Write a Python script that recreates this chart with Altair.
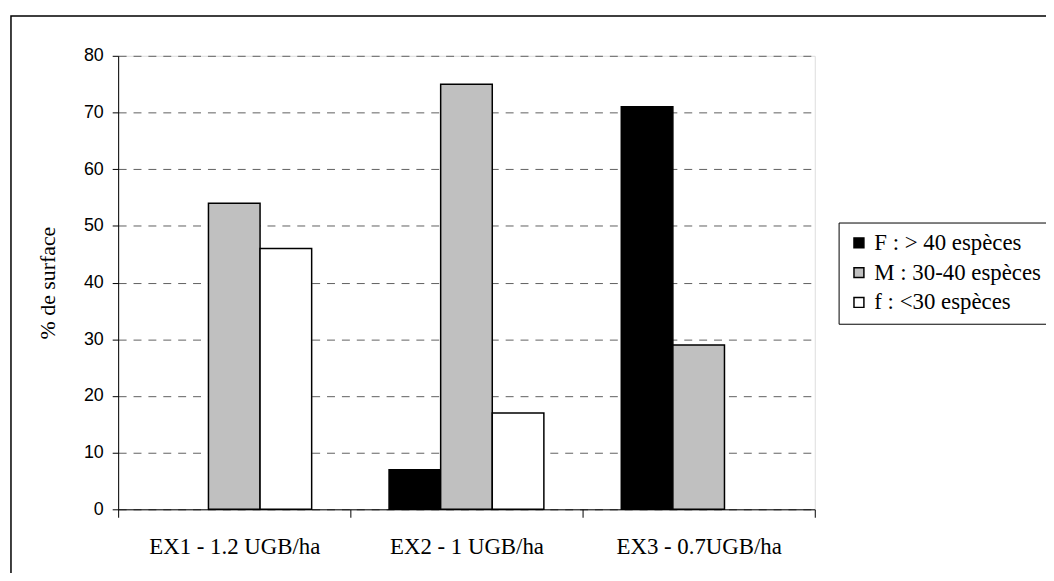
import altair as alt
import pandas as pd

categories = ["EX1 - 1.2 UGB/ha", "EX2 - 1 UGB/ha", "EX3 - 0.7UGB/ha"]
series = ["F : > 40  espèces", "M : 30-40 espèces", "f : <30 espèces"]
vals_F = [0, 7, 71]
vals_M = [54, 75, 29]
vals_f = [46, 17, 0]
colors = ["#000000", "#C0C0C0", "#FFFFFF"]
y_ticks = [0, 10, 20, 30, 40, 50, 60, 70, 80]

rows = []
for s, vals in zip(series, [vals_F, vals_M, vals_f]):
    for c, v in zip(categories, vals):
        rows.append({"cat": c, "serie": s, "v": v})
df = pd.DataFrame(rows)

W, H = 702, 457

bars = alt.Chart(df).transform_filter("datum.v > 0").mark_bar(
    stroke="black", strokeWidth=1.5
).encode(
    x=alt.X("cat:N", sort=categories,
            scale=alt.Scale(paddingInner=0, paddingOuter=0),
            axis=alt.Axis(title=None, labelAngle=0, tickBand="extent", tickSize=8,
                          tickColor="black", domainColor="black", domainWidth=1,
                          labelFont="Liberation Serif", labelFontSize=23,
                          labelColor="black", labelBaseline="middle", labelPadding=30,
                          grid=False)),
    xOffset=alt.XOffset("serie:N", sort=series,
                        scale=alt.Scale(domain=series, paddingInner=0, paddingOuter=0.75)),
    y=alt.Y("v:Q", scale=alt.Scale(domain=[0, 80], nice=False),
            axis=alt.Axis(title="% de surface", values=y_ticks, tickSize=6,
                          tickColor="black", domainColor="black", domainWidth=1,
                          labelFont="Liberation Sans", labelFontSize=18,
                          labelColor="black", labelPadding=9,
                          titleFont="Liberation Serif", titleFontSize=22,
                          titleFontWeight="normal", titleColor="black",
                          titleX=-71, titleY=H / 2, titleAngle=270,
                          titleAlign="center", titleBaseline="middle",
                          grid=True, gridDash=[8, 7], gridColor="#606060",
                          gridWidth=1)),
    color=alt.Color("serie:N",
                    scale=alt.Scale(domain=series, range=colors),
                    legend=alt.Legend(title=None, orient="none", legendX=726, legendY=168,
                                      symbolType="square", symbolSize=100,
                                      symbolStrokeColor="black", symbolStrokeWidth=1.5,
                                      labelFont="Liberation Serif", labelFontSize=23,
                                      labelColor="black", labelOffset=4,
                                      rowPadding=6, padding=9,
                                      strokeColor="black", fillColor="white",
                                      labelLimit=400)),
)

border = alt.Chart(alt.Data(values=[{"a": 1}])).mark_rect(
    fill="transparent", stroke="black", strokeWidth=1.5
).encode(
    x=alt.value(-108), x2=alt.value(1100), y=alt.value(-40), y2=alt.value(700)
)

chart = alt.layer(border, bars).properties(
    width=W, height=H,
    autosize=alt.AutoSizeParams(type="none"),
    padding={"left": 111, "top": 46, "right": 233, "bottom": 62},
).configure_view(stroke=None).configure(background="white")

chart.save("out.html", embed_options={"renderer": "svg", "actions": False})
